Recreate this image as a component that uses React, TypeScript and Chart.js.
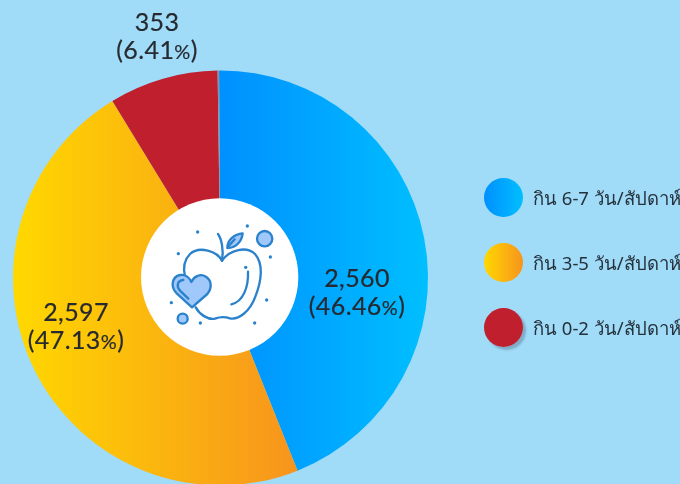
import React, { useEffect, useRef } from "react";
import { Chart, registerables } from "chart.js";

Chart.register(...registerables);

const categories = ["กิน 6-7 วัน/สัปดาห์", "กิน 3-5 วัน/สัปดาห์", "กิน 0-2 วัน/สัปดาห์"];
const counts = ["2,560", "2,597", "353"];
const percents = ["46.46", "47.13", "6.41"];
// Slice sizes as drawn in the picture (degrees), which differ from the printed percentages.
const sliceDegrees = [158.6, 170.4, 30.6, 0.4];
const gradientStops = [
  ["#0090ff", "#00bfff"],
  ["#ffd800", "#f7941d"],
  ["#c01f2e", "#c01f2e"],
  ["#8d9298", "#8d9298"],
];
const labelPositions = [
  { x: 357, y: 292 },
  { x: 76, y: 326 },
  { x: 157, y: 36 },
];
const FONT = "Lato, 'Noto Sans', sans-serif";

export default function App() {
  const ref = useRef<HTMLCanvasElement | null>(null);
  useEffect(() => {
    const canvas = ref.current!;
    const labelPlugin = {
      id: "sliceLabels",
      afterDraw(chart: any) {
        const ctx = chart.ctx;
        ctx.save();
        ctx.fillStyle = "#262a30";
        ctx.strokeStyle = "#262a30";
        ctx.lineWidth = 0.2;
        ctx.textBaseline = "alphabetic";
        ctx.textAlign = "left";
        const put = (t: string, x: number, y: number) => {
          ctx.fillText(t, x, y);
          ctx.strokeText(t, x, y);
        };
        labelPositions.forEach((p, i) => {
          ctx.font = `25px ${FONT}`;
          ctx.letterSpacing = "0.4px";
          const w1 = ctx.measureText(counts[i]).width;
          put(counts[i], p.x - w1 / 2, p.y - 5);
          const main = `(${percents[i]}`;
          const w2 = ctx.measureText(main).width;
          const w4 = ctx.measureText(")").width;
          ctx.font = `20px ${FONT}`;
          const w3 = ctx.measureText("%").width;
          const start = p.x - (w2 + w3 + w4) / 2;
          put("%", start + w2, p.y + 23);
          ctx.font = `25px ${FONT}`;
          put(main, start, p.y + 23);
          put(")", start + w2 + w3, p.y + 23);
        });
        ctx.restore();
      },
    };
    const chart = new Chart(canvas, {
      type: "doughnut",
      data: {
        labels: [...categories, ""],
        datasets: [
          {
            data: sliceDegrees,
            borderWidth: 0,
            backgroundColor: (c: any) => {
              const area = c.chart.chartArea;
              if (!area) return gradientStops[c.dataIndex][0];
              const [a, b] =
                c.dataIndex === 0 ? [220, 428] : c.dataIndex === 1 ? [13, 297] : [112, 220];
              const g = c.chart.ctx.createLinearGradient(a, 0, b, 0);
              g.addColorStop(0, gradientStops[c.dataIndex][0]);
              g.addColorStop(1, gradientStops[c.dataIndex][1]);
              return g;
            },
          },
        ],
      },
      options: {
        responsive: false,
        animation: false,
        cutout: "36%",
        rotation: -0.4,
        layout: { padding: { left: 13, right: 239, top: 70.5, bottom: 70.5 } },
        plugins: { legend: { display: false }, tooltip: { enabled: false } },
      } as any,
      plugins: [labelPlugin],
    });
    return () => chart.destroy();
  }, []);

  return (
    <div style={{ position: "fixed", left: 0, top: 0, width: 680, height: 484, overflow: "hidden", background: "#a0dbf8" }}>
      <canvas ref={ref} width={667} height={556} style={{ position: "absolute", left: 0, top: 0, width: 667, height: 556 }} />
      <svg width={180} height={180} viewBox="0 0 540 540" style={{ position: "absolute", left: 130, top: 180 }}>
        <circle cx={269} cy={291} r={236} fill="#fff" />
        <g fill="none" stroke="#2a82cc" strokeWidth={7} strokeLinecap="round" strokeLinejoin="round">
          <path d="M276 242 C262 214 208 196 180 222 C160 242 160 268 165 290" />
          <path d="M276 242 C300 208 350 198 375 222 C400 250 396 300 376 350 C360 395 325 420 300 415 C285 410 270 410 255 416 C235 420 210 405 197 382" />
          <path d="M276 242 C282 210 274 175 264 162" />
          <path d="M292 204 C292 178 315 162 338 160 C335 185 318 204 292 204 Z" fill="#a0c8fb" />
          <path d="M314 178 L296 198" />
          <path d="M354 275 C356 320 340 365 304 373" />
          <path d="M186 382 L140 340 C120 320 126 290 150 285 C165 282 178 292 184 306 C192 288 212 280 228 290 C246 302 246 325 232 342 Z" fill="#a0c8fb" />
          <path d="M175 356 L150 332 C138 318 142 302 160 300" />
          <circle cx={404} cy={176} r={23} fill="#a0c8fb" />
          <circle cx={158} cy={416} r={15} fill="#a0c8fb" />
        </g>
        <g fill="#2a82cc">
          {[[203,156],[352,138],[145,221],[421,231],[347,262],[124,368],[410,360],[211,429],[374,429]].map(([x,y],i)=>(
            <circle key={i} cx={x} cy={y} r={5} />
          ))}
        </g>
      </svg>
      {categories.map((c, i) => (
        <React.Fragment key={c}>
          <div
            style={{
              position: "absolute",
              left: 484,
              top: 178 + i * 65,
              width: 39,
              height: 39,
              borderRadius: "50%",
              background: `linear-gradient(to right, ${gradientStops[i][0]}, ${gradientStops[i][1]})`,
              boxShadow: i === 2 ? "3px 3px 2px rgba(60,90,110,0.35)" : "none",
            }}
          />
          <div
            style={{
              position: "absolute",
              left: 533,
              top: 186 + i * 65,
              font: `18.5px 'Noto Sans', sans-serif`,
              lineHeight: "24px",
              color: "#25313c",
              whiteSpace: "nowrap",
            }}
          >
            {c}
          </div>
        </React.Fragment>
      ))}
    </div>
  );
}
